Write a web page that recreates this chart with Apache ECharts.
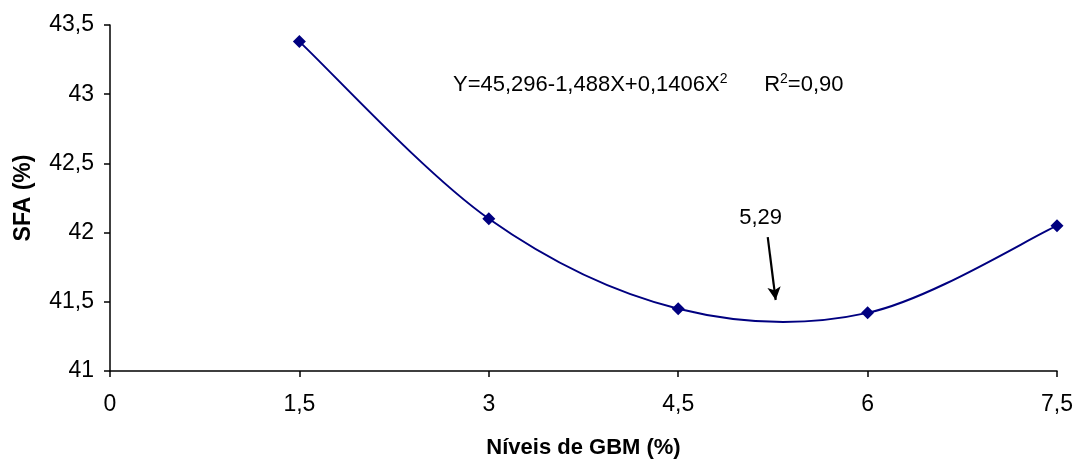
<!DOCTYPE html>
<html><head><meta charset="utf-8">
<script src="https://cdn.jsdelivr.net/npm/echarts@6/dist/echarts.min.js"></script>
<style>html,body{margin:0;padding:0;background:#fff}#c{width:1077px;height:464px}</style>
</head><body><div id="c"></div>
<script>
const xLevels = [1.5, 3, 4.5, 6, 7.5];
const sfaValues = [43.38, 42.10, 41.45, 41.42, 42.05];
const xTicks = [0, 1.5, 3, 4.5, 6, 7.5];
const yTicks = [41, 41.5, 42, 42.5, 43, 43.5];
const equationText = 'Y=45,296-1,488X+0,1406X';
const r2Text = '=0,90';
const optimumLabel = '5,29';
const arrowFrom = [5.209, 41.968];
const arrowTo = [5.272, 41.513];
const optimumLabelPos = [5.153, 42.105];

const fmt = v => String(v).replace('.', ',');
const chart = echarts.init(document.getElementById('c'));
const F = 'Liberation Sans, Arial, sans-serif';
const pts = xLevels.map((x, i) => [x, sfaValues[i]]);

// Excel-style smoothed curve: cubic Bezier segments (Catmull-Rom, tension 1/6) in pixel space
function renderSeg(params, api) {
  const i = params.dataIndex;
  const n = pts.length;
  if (i >= n - 1) return null;
  const P = k => api.coord(pts[Math.max(0, Math.min(n - 1, k))]);
  const p0 = P(i - 1), p1 = P(i), p2 = P(i + 1), p3 = P(i + 2);
  const t = 1 / 6;
  return {
    type: 'bezierCurve',
    shape: {
      x1: p1[0], y1: p1[1], x2: p2[0], y2: p2[1],
      cpx1: p1[0] + (p2[0] - p0[0]) * t, cpy1: p1[1] + (p2[1] - p0[1]) * t,
      cpx2: p2[0] - (p3[0] - p1[0]) * t, cpy2: p2[1] - (p3[1] - p1[1]) * t
    },
    style: {stroke: '#000080', lineWidth: 2, fill: null}
  };
}

chart.setOption({
  animation: false,
  grid: {left: 110, right: 20, top: 25, bottom: 93},
  xAxis: {
    type: 'value', min: 0, max: 7.5, interval: 1.5,
    name: 'Níveis de GBM (%)', nameLocation: 'middle', nameGap: 66,
    nameTextStyle: {fontFamily: F, fontSize: 22, fontWeight: 'bold', color: '#000'},
    axisLine: {lineStyle: {color: '#000', width: 1.5}},
    axisTick: {show: true, length: 6, lineStyle: {color: '#000', width: 1.5}},
    axisLabel: {fontFamily: F, fontSize: 23, color: '#000', margin: 22, formatter: fmt},
    splitLine: {show: false}
  },
  yAxis: {
    type: 'value', min: 41, max: 43.5, interval: 0.5,
    name: 'SFA (%)', nameLocation: 'middle', nameGap: 75, nameRotate: 90,
    nameTextStyle: {fontFamily: F, fontSize: 23, fontWeight: 'bold', color: '#000'},
    axisLine: {show: true, lineStyle: {color: '#000', width: 1.5}},
    axisTick: {show: true, length: 6, lineStyle: {color: '#000', width: 1.5}},
    axisLabel: {fontFamily: F, fontSize: 23, color: '#000', margin: 16, formatter: fmt},
    splitLine: {show: false}
  },
  series: [{
    type: 'custom', renderItem: renderSeg, data: pts, silent: true, clip: false,
    encode: {x: 0, y: 1}
  }, {
    type: 'scatter',
    data: pts,
    symbol: 'diamond', symbolSize: 13,
    itemStyle: {color: '#000080', opacity: 1},
    markLine: {
      silent: true, symbol: ['none', 'arrow'], symbolSize: [10, 13],
      lineStyle: {color: '#000', width: 2.2, type: 'solid', opacity: 1},
      label: {show: false},
      data: [[{coord: arrowFrom}, {coord: arrowTo}]]
    },
    markPoint: {
      silent: true, symbol: 'circle', symbolSize: 0,
      label: {show: true, formatter: optimumLabel, fontFamily: F, fontSize: 22, color: '#000', position: 'inside'},
      data: [{coord: optimumLabelPos}]
    }
  }],
  graphic: [{
    type: 'text', left: 453, top: 72,
    style: {
      rich: {
        n: {fontFamily: F, fontSize: 22, fill: '#000'},
        s: {fontFamily: F, fontSize: 14, fill: '#000', verticalAlign: 'top', padding: [0, 0, 12, 0]}
      },
      text: '{n|' + equationText + '}{s|2}{n|      R}{s|2}{n|' + r2Text + '}'
    }
  }]
});
</script></body></html>
